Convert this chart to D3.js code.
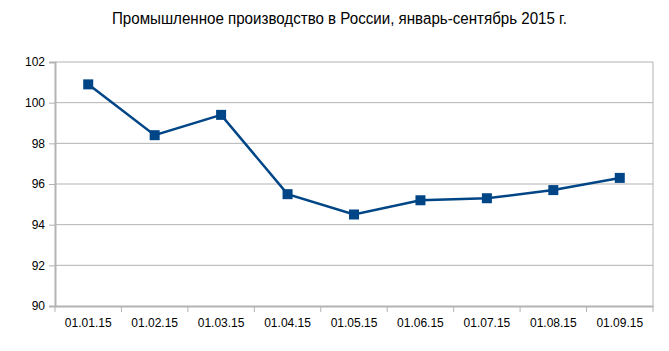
<!DOCTYPE html>
<html>
<head>
<meta charset="utf-8">
<script src="https://d3js.org/d3.v7.min.js"></script>
<style>
  body { margin: 0; background: #fff; font-family: "Liberation Sans", Arial, sans-serif; }
</style>
</head>
<body>
<div id="chart"></div>
<script>
    // data
    const dates = ["01.01.15", "01.02.15", "01.03.15", "01.04.15", "01.05.15", "01.06.15", "01.07.15", "01.08.15", "01.09.15"];
    const values = [100.9, 98.4, 99.4, 95.5, 94.5, 95.2, 95.3, 95.7, 96.3];
    const yTicks = [90, 92, 94, 96, 98, 100, 102];
    const title = "Промышленное производство в России, январь-сентябрь 2015 г.";

    const W = 669, H = 351;
    const margin = {top: 62, right: 16, bottom: 45, left: 55},
        width = W - margin.left - margin.right,
        height = H - margin.top - margin.bottom;

    const svg = d3.select("#chart")
      .append("svg")
        .attr("width", W)
        .attr("height", H);

    // title, squeezed a bit like the original
    svg.append("text")
      .attr("x", 112)
      .attr("y", 24)
      .attr("textLength", 455)
      .attr("lengthAdjust", "spacingAndGlyphs")
      .style("font-size", "16px")
      .attr("fill", "#000")
      .text(title);

    const g = svg.append("g")
      .attr("transform", `translate(${margin.left},${margin.top})`);

    const x = d3.scaleBand()
      .domain(dates)
      .range([0, width]);

    const y = d3.scaleLinear()
      .domain([90, 102])
      .range([height, 0]);

    // grid
    g.selectAll(".grid")
      .data(yTicks.filter(d => d > 90))
      .enter().append("line")
        .attr("class", "grid")
        .attr("x1", 0).attr("x2", width)
        .attr("y1", d => y(d)).attr("y2", d => y(d))
        .attr("stroke", "#b3b3b3")
        .attr("stroke-width", 1);

    // right border
    g.append("line")
      .attr("x1", width).attr("x2", width)
      .attr("y1", 0).attr("y2", height)
      .attr("stroke", "#b3b3b3");

    // y axis
    const yAxis = g.append("g")
      .call(d3.axisLeft(y).tickValues(yTicks).tickSize(6).tickPadding(4));
    yAxis.select(".domain").attr("stroke", "#b3b3b3").attr("stroke-width", 2);
    yAxis.selectAll(".tick line").attr("stroke", "#b3b3b3").attr("stroke-width", 1);
    yAxis.selectAll("text").style("font-size", "12px").style("font-family", "Liberation Sans, Arial").attr("fill", "#000");

    // x axis
    const xAxis = g.append("g")
      .attr("transform", `translate(0,${height})`)
      .call(d3.axisBottom(x).tickSize(0).tickPadding(12));
    xAxis.select(".domain").attr("stroke", "#b3b3b3").attr("stroke-width", 2);
    xAxis.selectAll("text").style("font-size", "12px").style("font-family", "Liberation Sans, Arial").attr("fill", "#000");

    // x boundary ticks
    const bounds = dates.map(d => x(d)).concat([width]);
    xAxis.selectAll(".bound")
      .data(bounds)
      .enter().append("line")
        .attr("class", "bound")
        .attr("x1", d => d).attr("x2", d => d)
        .attr("y1", 0).attr("y2", 6)
        .attr("stroke", "#b3b3b3");

    // line
    const line = d3.line()
      .x((d, i) => x(dates[i]) + x.bandwidth() / 2)
      .y(d => y(d));

    g.append("path")
      .datum(values)
      .attr("fill", "none")
      .attr("stroke", "#004586")
      .attr("stroke-width", 2.5)
      .attr("d", line);

    g.selectAll(".pt")
      .data(values)
      .enter().append("rect")
        .attr("class", "pt")
        .attr("x", (d, i) => x(dates[i]) + x.bandwidth() / 2 - 5)
        .attr("y", d => y(d) - 5)
        .attr("width", 10)
        .attr("height", 10)
        .attr("fill", "#004586");
</script>
</body>
</html>
